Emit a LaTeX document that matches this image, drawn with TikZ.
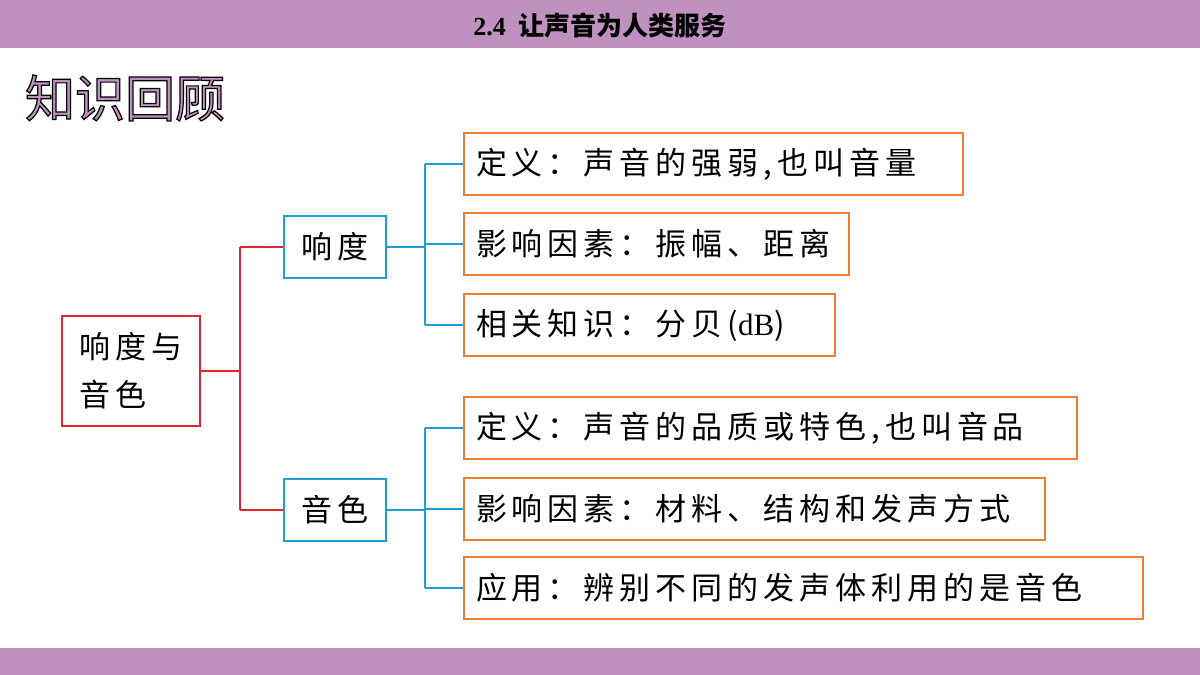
\documentclass[tikz,border=0pt]{standalone}
\usepackage{fontspec}
\setmainfont{Liberation Serif}
\newfontfamily\cjk{Noto Sans CJK SC}
\newfontfamily\cjkw[LetterSpace=16]{Noto Sans CJK SC}
\usetikzlibrary{positioning}
\definecolor{barpurple}{RGB}{191,145,193}
\definecolor{boxorange}{RGB}{237,125,49}
\definecolor{boxblue}{RGB}{30,160,210}
\definecolor{boxred}{RGB}{220,40,50}
\begin{document}
\begin{tikzpicture}[x=0.5pt,y=-0.5pt]
  \tikzstyle{item}=[draw=boxorange,line width=1pt,anchor=west,minimum height=31pt,inner sep=0pt,font=\cjkw\fontsize{15.5}{18}\selectfont,align=left]
  \tikzstyle{mid}=[draw=boxblue,line width=1pt,minimum width=51pt,minimum height=31pt,font=\cjkw\fontsize{15.5}{18}\selectfont]
  \tikzstyle{root}=[draw=boxred,line width=1pt,minimum width=69pt,minimum height=55pt,font=\cjkw\fontsize{15.5}{24}\selectfont,align=left]
  \tikzstyle{blueline}=[boxblue,line width=1pt]
  \tikzstyle{redline}=[boxred,line width=1pt]

  % page and bars
  \fill[white] (0,0) rectangle (1200,675);
  \fill[barpurple] (0,0) rectangle (1200,48);
  \fill[barpurple] (0,648) rectangle (1200,675);
  \node (title) at (600,26) {\fontsize{13}{15}\selectfont\bfseries 2.4\ \ {\cjk 让声音为人类服务}};
  \node[anchor=west] (review) at (18,98)
    {\cjk\fontsize{25}{27}\selectfont\color{barpurple}\special{pdf:literal direct 2 Tr 0.6 w 0 G}知识回顾\special{pdf:literal direct 0 Tr}};

  % tree
  \node [root] (R) at (131,371) {响度与\\音色};
  \node [mid] (L) at (335,247) {响度};
  \node [mid] (T) at (335,510) {音色};
  \node [item,text width=249.5pt] (L1) at (463,164) {\hspace{6pt}定义：声音的强弱,也叫音量};
  \node [item,text width=192.5pt] (L2) at (463,244) {\hspace{6pt}影响因素：振幅、距离};
  \node [item,text width=185.5pt] (L3) at (463,325) {\hspace{6pt}相关知识：分贝({\rmfamily dB})};
  \node [item,text width=306.5pt] (T1) at (463,428) {\hspace{6pt}定义：声音的品质或特色,也叫音品};
  \node [item,text width=290.5pt] (T2) at (463,509) {\hspace{6pt}影响因素：材料、结构和发声方式};
  \node [item,text width=339.5pt] (T3) at (463,588) {\hspace{6pt}应用：辨别不同的发声体利用的是音色};

  \coordinate (rj) at (240,371);
  \draw [redline] (R.east) -- (rj) (rj |- L.west) -- (L.west) (rj |- T.west) -- (T.west) (rj |- L.west) -- (rj |- T.west);
  \coordinate (lj) at (425,247);
  \draw [blueline] (L.east) -- (lj) (lj |- L1.west) -- (L1.west) (lj |- L2.west) -- (L2.west) (lj |- L3.west) -- (L3.west) (lj |- L1.west) -- (lj |- L3.west);
  \coordinate (tj) at (425,510);
  \draw [blueline] (T.east) -- (tj) (tj |- T1.west) -- (T1.west) (tj |- T2.west) -- (T2.west) (tj |- T3.west) -- (T3.west) (tj |- T1.west) -- (tj |- T3.west);
\end{tikzpicture}
\end{document}
